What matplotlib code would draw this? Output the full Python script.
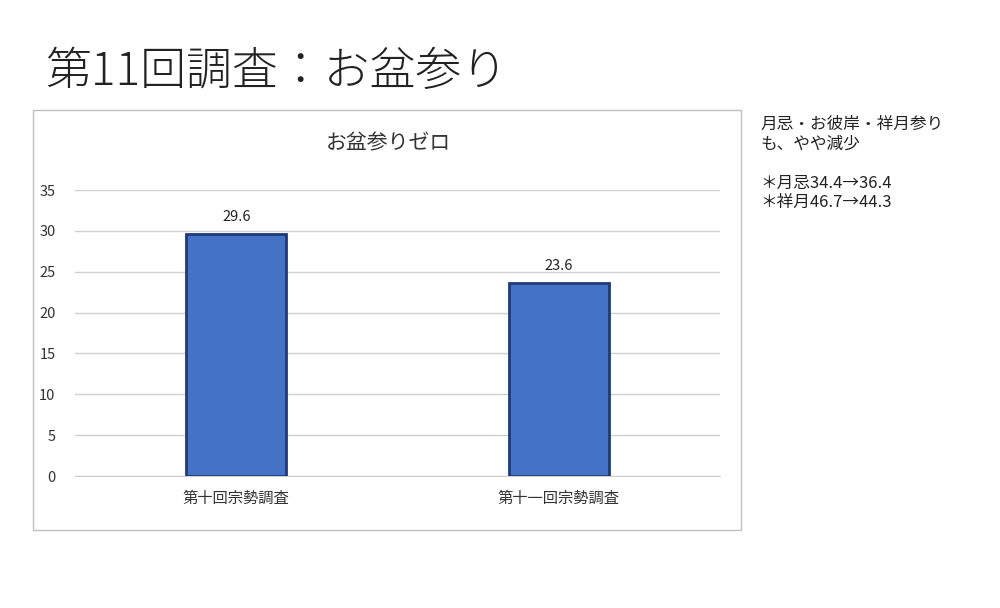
import matplotlib
matplotlib.use("Agg")
import matplotlib.pyplot as plt
from matplotlib.patches import Rectangle

plt.rcParams['font.family'] = ['Noto Sans CJK JP', 'DejaVu Sans']

categories = ["第十回宗勢調査", "第十一回宗勢調査"]
values = [29.6, 23.6]
yticks = [0, 5, 10, 15, 20, 25, 30, 35]

fig = plt.figure(figsize=(10, 6.08), dpi=100)
fig.patches.append(Rectangle((0.033, 1-530/608), 0.708, 420/608, transform=fig.transFigure,
                             fill=False, edgecolor="#bfbfbf", linewidth=1))
fig.text(0.045, 1-72/608, "第11回調査：お盆参り", fontsize=33, va="center", ha="left",
         color="#222222", fontweight="light")
fig.text(0.388, 1-143/608, "お盆参りゼロ", fontsize=15, va="center", ha="center", color="#333333")
fig.text(0.76, 1-116/608, "月忌・お彼岸・祥月参り\nも、やや減少\n\n＊月忌34.4→36.4\n＊祥月46.7→44.3",
         fontsize=12, va="top", ha="left", color="#222222", linespacing=1.2)

ax = fig.add_axes([0.075, 1-476/608, 0.645, 286/608])
x = range(len(categories))
ax.bar(x, values, width=0.31, color="#4472C4", edgecolor="#1F3A7A", linewidth=2, zorder=3)
for xi, v in zip(x, values):
    ax.text(xi, v + 1.2, f"{v:.1f}", ha="center", va="bottom", fontsize=10.5, color="#222222")
ax.set_xlim(-0.5, 1.5)
ax.set_ylim(0, 35)
ax.set_yticks(yticks)
ax.set_xticks(list(x))
ax.set_xticklabels(categories, fontsize=11, color="#333333")
ax.tick_params(axis="y", labelsize=10.5, colors="#333333", length=0, pad=14)
ax.tick_params(axis="x", length=0, pad=10)
ax.grid(axis="y", color="#d0d0d0", linewidth=1, zorder=0)
for s in ["top", "right", "left"]:
    ax.spines[s].set_visible(False)
ax.spines["bottom"].set_color("#d0d0d0")

fig.savefig("out.png", dpi=100)
